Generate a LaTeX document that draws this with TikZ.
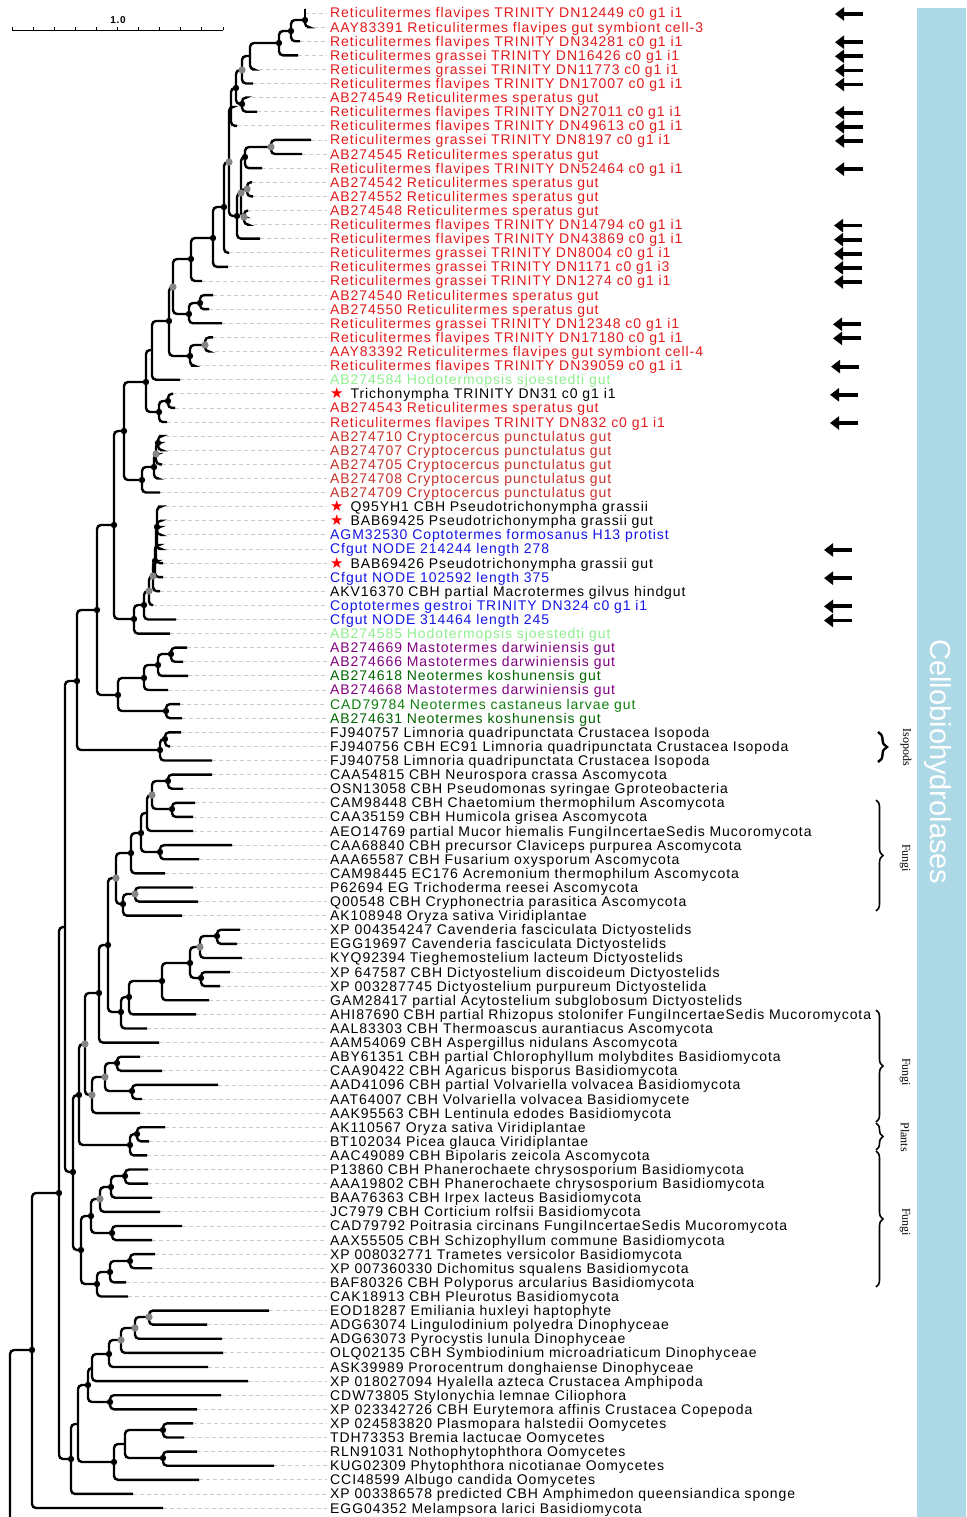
\documentclass[tikz,border=0pt]{standalone}
\usepackage{fontspec}
\usetikzlibrary{arrows.meta,decorations.pathreplacing}
\newfontfamily\leaffont[LetterSpace=6.6]{Liberation Sans}
\newfontfamily\sidefont{Liberation Sans}
\newfontfamily\bracefont{Liberation Serif}
\newfontfamily\starfont{DejaVu Sans}
\definecolor{rt}{HTML}{E31A1C}
\definecolor{cp}{HTML}{C8302A}
\definecolor{hs}{HTML}{90EE90}
\definecolor{cf}{HTML}{1414E6}
\definecolor{md}{HTML}{800080}
\definecolor{nk}{HTML}{006400}
\definecolor{nc}{HTML}{108010}
\definecolor{dotgray}{HTML}{858585}
\definecolor{sidebar}{HTML}{ADD8E6}
\newcommand\redstar{{\color{red}\starfont\fontsize{15}{16}\selectfont ★}\hspace{7pt}}

\begin{document}
\begin{tikzpicture}[x=1pt, y=-1pt,
  branch/.style={line width=2.4pt, rounded corners=4pt},
  tipline/.style={gray!40, line width=0.8pt, dash pattern=on 4pt off 3pt, shorten >=3pt},
  leaf/.style={anchor=base west, inner sep=0pt, font=\fontsize{14}{16}\leaffont},
  bdot/.style={fill=black},
  gdot/.style={fill=dotgray},
  marker/.style={line width=3.8pt, -{Triangle[length=9pt,width=13pt]}},
  clade/.style={line width=1.6pt, decorate, decoration={brace, amplitude=7pt}},
  cladelab/.style={rotate=-90, font=\fontsize{12}{14}\bracefont}]
  \useasboundingbox (0,0) rectangle (966,1517);

  % side bar
  \fill[sidebar] (917,8) rectangle (966,1517);
  \node[rotate=-90, text=white, font=\fontsize{29}{32}\sidefont] (sidetitle) at (938,762) {Cellobiohydrolases};

  % scale bar
  \draw[line width=0.9pt] (12,30.5) -- (223,30.5);
  \foreach \i in {0,...,10}
    \draw[line width=0.9pt] ({12+\i*21.1},30.5) -- ++(0,-3.5);
  \node[font=\fontsize{10}{11}\leaffont\bfseries] (scalelab) at (118,20) {1.0};

  % leaves
  \foreach \n/\tx/\col/\lab in {
    1/305/rt/Reticulitermes flavipes TRINITY DN12449 c0 g1 i1,
    2/307/rt/AAY83391 Reticulitermes flavipes gut symbiont cell-3,
    3/300/rt/Reticulitermes flavipes TRINITY DN34281 c0 g1 i1,
    4/298/rt/Reticulitermes grassei TRINITY DN16426 c0 g1 i1,
    5/252/rt/Reticulitermes grassei TRINITY DN11773 c0 g1 i1,
    6/253/rt/Reticulitermes flavipes TRINITY DN17007 c0 g1 i1,
    7/245/rt/AB274549 Reticulitermes speratus gut,
    8/257/rt/Reticulitermes flavipes TRINITY DN27011 c0 g1 i1,
    9/237/rt/Reticulitermes flavipes TRINITY DN49613 c0 g1 i1,
    10/311/rt/Reticulitermes grassei TRINITY DN8197 c0 g1 i1,
    11/302/rt/AB274545 Reticulitermes speratus gut,
    12/262/rt/Reticulitermes flavipes TRINITY DN52464 c0 g1 i1,
    13/252/rt/AB274542 Reticulitermes speratus gut,
    14/253/rt/AB274552 Reticulitermes speratus gut,
    15/248/rt/AB274548 Reticulitermes speratus gut,
    16/247/rt/Reticulitermes flavipes TRINITY DN14794 c0 g1 i1,
    17/260/rt/Reticulitermes flavipes TRINITY DN43869 c0 g1 i1,
    18/229/rt/Reticulitermes grassei TRINITY DN8004 c0 g1 i1,
    19/228/rt/Reticulitermes grassei TRINITY DN1171 c0 g1 i3,
    20/202/rt/Reticulitermes grassei TRINITY DN1274 c0 g1 i1,
    21/213/rt/AB274540 Reticulitermes speratus gut,
    22/209/rt/AB274550 Reticulitermes speratus gut,
    23/222/rt/Reticulitermes grassei TRINITY DN12348 c0 g1 i1,
    24/213/rt/Reticulitermes flavipes TRINITY DN17180 c0 g1 i1,
    25/208/rt/AAY83392 Reticulitermes flavipes gut symbiont cell-4,
    26/191/rt/Reticulitermes flavipes TRINITY DN39059 c0 g1 i1,
    27/180/hs/AB274584 Hodotermopsis sjoestedti gut,
    28/173/black/\redstar Trichonympha TRINITY DN31 c0 g1 i1,
    29/175/rt/AB274543 Reticulitermes speratus gut,
    30/167/rt/Reticulitermes flavipes TRINITY DN832 c0 g1 i1,
    31/159/cp/AB274710 Cryptocercus punctulatus gut,
    32/160/cp/AB274707 Cryptocercus punctulatus gut,
    33/162/cp/AB274705 Cryptocercus punctulatus gut,
    34/156/cp/AB274708 Cryptocercus punctulatus gut,
    35/160/cp/AB274709 Cryptocercus punctulatus gut,
    36/158/black/\redstar Q95YH1 CBH Pseudotrichonympha grassii,
    37/160/black/\redstar BAB69425 Pseudotrichonympha grassii gut,
    38/160/cf/AGM32530 Coptotermes formosanus H13 protist,
    39/158/cf/Cfgut NODE 214244 length 278,
    40/163/black/\redstar BAB69426 Pseudotrichonympha grassii gut,
    41/163/cf/Cfgut NODE 102592 length 375,
    42/160/black/AKV16370 CBH partial Macrotermes gilvus hindgut,
    43/153/cf/Coptotermes gestroi TRINITY DN324 c0 g1 i1,
    44/176/cf/Cfgut NODE 314464 length 245,
    45/170/hs/AB274585 Hodotermopsis sjoestedti gut,
    46/187/md/AB274669 Mastotermes darwiniensis gut,
    47/183/md/AB274666 Mastotermes darwiniensis gut,
    48/188/nk/AB274618 Neotermes koshunensis gut,
    49/168/md/AB274668 Mastotermes darwiniensis gut,
    50/180/nc/CAD79784 Neotermes castaneus larvae gut,
    51/182/nk/AB274631 Neotermes koshunensis gut,
    52/181/black/FJ940757 Limnoria quadripunctata Crustacea Isopoda,
    53/170/black/FJ940756 CBH EC91 Limnoria quadripunctata Crustacea Isopoda,
    54/212/black/FJ940758 Limnoria quadripunctata Crustacea Isopoda,
    55/212/black/CAA54815 CBH Neurospora crassa Ascomycota,
    56/183/black/OSN13058 CBH Pseudomonas syringae Gproteobacteria,
    57/195/black/CAM98448 CBH Chaetomium thermophilum Ascomycota,
    58/193/black/CAA35159 CBH Humicola grisea Ascomycota,
    59/193/black/AEO14769 partial Mucor hiemalis FungiIncertaeSedis Mucoromycota,
    60/232/black/CAA68840 CBH precursor Claviceps purpurea Ascomycota,
    61/199/black/AAA65587 CBH Fusarium oxysporum Ascomycota,
    62/165/black/CAM98445 EC176 Acremonium thermophilum Ascomycota,
    63/193/black/P62694 EG Trichoderma reesei Ascomycota,
    64/198/black/Q00548 CBH Cryphonectria parasitica Ascomycota,
    65/182/black/AK108948 Oryza sativa Viridiplantae,
    66/240/black/XP 004354247 Cavenderia fasciculata Dictyostelids,
    67/237/black/EGG19697 Cavenderia fasciculata Dictyostelids,
    68/242/black/KYQ92394 Tieghemostelium lacteum Dictyostelids,
    69/230/black/XP 647587 CBH Dictyostelium discoideum Dictyostelids,
    70/220/black/XP 003287745 Dictyostelium purpureum Dictyostelida,
    71/209/black/GAM28417 partial Acytostelium subglobosum Dictyostelids,
    72/196/black/AHI87690 CBH partial Rhizopus stolonifer FungiIncertaeSedis Mucoromycota,
    73/147/black/AAL83303 CBH Thermoascus aurantiacus Ascomycota,
    74/159/black/AAM54069 CBH Aspergillus nidulans Ascomycota,
    75/140/black/ABY61351 CBH partial Chlorophyllum molybdites Basidiomycota,
    76/162/black/CAA90422 CBH Agaricus bisporus Basidiomycota,
    77/218/black/AAD41096 CBH partial Volvariella volvacea Basidiomycota,
    78/142/black/AAT64007 CBH Volvariella volvacea Basidiomycete,
    79/140/black/AAK95563 CBH Lentinula edodes Basidiomycota,
    80/165/black/AK110567 Oryza sativa Viridiplantae,
    81/149/black/BT102034 Picea glauca Viridiplantae,
    82/147/black/AAC49089 CBH Bipolaris zeicola Ascomycota,
    83/148/black/P13860 CBH Phanerochaete chrysosporium Basidiomycota,
    84/148/black/AAA19802 CBH Phanerochaete chrysosporium Basidiomycota,
    85/152/black/BAA76363 CBH Irpex lacteus Basidiomycota,
    86/160/black/JC7979 CBH Corticium rolfsii Basidiomycota,
    87/182/black/CAD79792 Poitrasia circinans FungiIncertaeSedis Mucoromycota,
    88/152/black/AAX55505 CBH Schizophyllum commune Basidiomycota,
    89/155/black/XP 008032771 Trametes versicolor Basidiomycota,
    90/152/black/XP 007360330 Dichomitus squalens Basidiomycota,
    91/126/black/BAF80326 CBH Polyporus arcularius Basidiomycota,
    92/128/black/CAK18913 CBH Pleurotus Basidiomycota,
    93/269/black/EOD18287 Emiliania huxleyi haptophyte,
    94/207/black/ADG63074 Lingulodinium polyedra Dinophyceae,
    95/222/black/ADG63073 Pyrocystis lunula Dinophyceae,
    96/223/black/OLQ02135 CBH Symbiodinium microadriaticum Dinophyceae,
    97/208/black/ASK39989 Prorocentrum donghaiense Dinophyceae,
    98/248/black/XP 018027094 Hyalella azteca Crustacea Amphipoda,
    99/221/black/CDW73805 Stylonychia lemnae Ciliophora,
    100/197/black/XP 023342726 CBH Eurytemora affinis Crustacea Copepoda,
    101/193/black/XP 024583820 Plasmopara halstedii Oomycetes,
    102/184/black/TDH73353 Bremia lactucae Oomycetes,
    103/197/black/RLN91031 Nothophytophthora Oomycetes,
    104/274/black/KUG02309 Phytophthora nicotianae Oomycetes,
    105/199/black/CCI48599 Albugo candida Oomycetes,
    106/133/black/XP 003386578 predicted CBH Amphimedon queensiandica sponge,
    107/163/black/EGG04352 Melampsora larici Basidiomycota}
  {
    \pgfmathsetmacro\yy{13+(\n-1)*14.104}
    \coordinate (t\n) at (\tx,\yy);
    \node[leaf, text=\col] (l\n) at (330,\yy+5) {\lab};
    \draw[tipline] (t\n) -- (t\n -| l\n.west);
  }

  % inner nodes
  \foreach \nm/\x/\y in {
    n305/305/20, n291/291/31, n279/279/43, n250/250/56, n242/242/70,
    n242b/242/104, n236/236/88, n231/231/107, n271/271/147, n245/245/157,
    n247/247/189, n244/244/217, n241/241/193, n237/237/216, n229/229/162,
    n224/224/207, n213/213/238, n191/191/259, n200/200/303, n189/189/314,
    n173/173/287, n205/205/345, n190/190/356, n169/169/321, n152/152/350,
    n168/168/401, n159/159/412, n146/146/382, n158/158/443, n156/156/454,
    n154/154/467, n142/142/480, n124/124/431, c1/157/527, c1b/156/545,
    c2/155/561, c3/153/576, c4/149/591, c5/144/605, c6/134/619,
    n114/114/525, n171/171/654, n158b/158/665, n144/144/678, n166/166/711,
    n118/118/695, n97/97/610, n165/165/739, n160/160/750, n77/77/681,
    f168/168/781, f172/172/809, f152/152/795, f147/147/813, f160/160/852,
    f141/141/833, f131/131/853, f135/135/894, f123/123/904, f116/116/878,
    d217/217/936, d200/200/947, d201/201/978, d190/190/963, d162/162/981,
    d129/129/997, d121/121/1012, f108/108/945, f99/99/993, f117/117/1063,
    f132/132/1091, f105/105/1077, f92/92/1095, f85/85/1044, f137/137/1134,
    f130/130/1145, f79/79/1095, f125/125/1176, f111/111/1187, f100/100/1199,
    f112/112/1233, f91/91/1216, f130b/130/1261, f110/110/1272, f97/97/1284,
    f81/81/1250, f73/73/1172, n65/65/927,
    o149/149/1317, o135/135/1328, o121/121/1340, o109/109/1354, o92/92/1368,
    o110/110/1402, o88/88/1385, o163a/163/1430, o163b/163/1458, o125/125/1444,
    o114/114/1462, o78/78/1424, o71/71/1459, n59/59/1193, n32/32/1350,
    root/10/1517}
    \coordinate (\nm) at (\x,\y);

  % branches
  \foreach \p/\c in {
    n305/t1, n305/t2, n291/n305, n291/t3, n279/n291, n279/t4, n250/n279, n250/t5,
    n242/n250, n242/t6, n242b/t7, n242b/t8, n236/n242, n236/n242b, n231/n236, n231/t9,
    n271/t10, n271/t11, n245/n271, n245/t12, n247/t13, n247/t14, n244/t15, n244/t16,
    n241/n245, n241/n247, n241/n244, n237/n241, n237/t17, n229/n231, n229/n237,
    n224/n229, n224/t18, n213/n224, n213/t19, n191/n213, n191/t20, n200/t21, n200/t22,
    n189/n200, n189/t23, n173/n191, n173/n189, n205/t24, n205/t25, n190/n205, n190/t26,
    n169/n173, n169/n190, n152/n169, n152/t27, n168/t28, n168/t29, n159/n168, n159/t30,
    n146/n152, n146/n159, n158/t31, n158/t32, n156/n158, n156/t33, n154/n156, n154/t34,
    n142/n154, n142/t35, n124/n146, n124/n142,
    c1/t36, c1/t37, c1/t38, c1/t39, c1b/c1, c1b/t40, c2/c1b, c2/t41, c3/c2, c3/t42,
    c4/c3, c4/t43, c5/c4, c5/t44, c6/c5, c6/t45, n114/n124, n114/c6,
    n171/t46, n171/t47, n158b/n171, n158b/t48, n144/n158b, n144/t49, n166/t50, n166/t51,
    n118/n144, n118/n166, n97/n114, n97/n118, n165/t52, n165/t53, n160/n165, n160/t54,
    n77/n97, n77/n160,
    f168/t55, f168/t56, f172/t57, f172/t58, f152/f168, f152/f172, f147/f152, f147/t59,
    f160/t60, f160/t61, f141/f147, f141/f160, f131/f141, f131/t62, f135/t63, f135/t64,
    f123/f135, f123/t65, f116/f131, f116/f123,
    d217/t66, d217/t67, d200/d217, d200/t68, d201/t69, d201/t70, d190/d200, d190/d201,
    d162/d190, d162/t71, d129/d162, d129/t72, d121/d129, d121/t73,
    f108/f116, f108/d121, f99/f108, f99/t74, f117/t75, f117/t76, f132/t77, f132/t78,
    f105/f117, f105/f132, f92/f105, f92/t79, f85/f99, f85/f92, f137/t80, f137/t81,
    f130/f137, f130/t82, f79/f85, f79/f130, f125/t83, f125/t84, f111/f125, f111/t85,
    f100/f111, f100/t86, f112/t87, f112/t88, f91/f100, f91/f112, f130b/t89, f130b/t90,
    f110/f130b, f110/t91, f97/f110, f97/t92, f81/f91, f81/f97, f73/f79, f73/f81,
    n65/n77, n65/f73,
    o149/t93, o149/t94, o135/o149, o135/t95, o121/o135, o121/t96, o109/o121, o109/t97,
    o92/o109, o92/t98, o110/t99, o110/t100, o88/o92, o88/o110, o163a/t101, o163a/t102,
    o163b/t103, o163b/t104, o125/o163a, o125/o163b, o114/o125, o114/t105,
    o78/o88, o78/o114, o71/o78, o71/t106, n59/n65, n59/o71, n32/n59, n32/t107, root/n32}
    \draw[branch] (\p) |- (\c);

  % support dots
  \foreach \nm in {n305, n291, n279, n242b, n236, n245, n237, n224, n213, n191, n200,
    n189, n190, n169, n168, n159, n146, n158, n154, n142, n124, c1, c2, c5, c6, n114,
    n171, n158b, n144, n166, n118, n97, n165, n160, n77, f168, f172, f160, f141, f131,
    f123, d217, d201, d190, d162, d129, d121, f108, f99, f117, f132, f137, f130, f79,
    f125, f111, f112, f91, f130b, f110, f97, f81, f73, o109, o110, o88, o163a, o163b,
    o114, o71, n59, n32}
    \fill[bdot] (\nm) circle (3.2);
  \foreach \nm in {n242, n271, n247, n244, n241, n229, n173, n205, n156, c3, c4, f152,
    f135, f116, d200, f105, f92, f85, f100, o149, o135, o121}
    \fill[gdot] (\nm) circle (3.6);

  % arrows
  \foreach \n/\xs in {1/863, 3/863, 4/863, 5/863, 6/863, 8/863, 9/863, 10/863, 12/863,
    16/862, 17/862, 18/862, 19/862, 20/862, 23/861, 24/861, 26/859, 28/858, 30/858,
    39/852, 41/852, 43/852, 44/852}
    \draw[marker] (\xs,{14+(\n-1)*14.104}) -- ++(-28,0);

  % clades
  \draw[clade, decoration={amplitude=9pt}, line width=2.4pt] (878,732) -- (878,762);
  \node[cladelab] (isopods) at (906,747) {Isopods};
  \draw[clade] (876,800) -- (876,911);
  \node[cladelab] (fungia) at (905,858) {Fungi};
  \draw[clade] (876,1010) -- (876,1122);
  \node[cladelab] (fungib) at (905,1072) {Fungi};
  \draw[clade] (876,1123) -- (876,1150);
  \node[cladelab] (plants) at (905,1137) {Plants};
  \draw[clade] (876,1151) -- (876,1287);
  \node[cladelab] (fungic) at (905,1222) {Fungi};
\end{tikzpicture}
\end{document}
